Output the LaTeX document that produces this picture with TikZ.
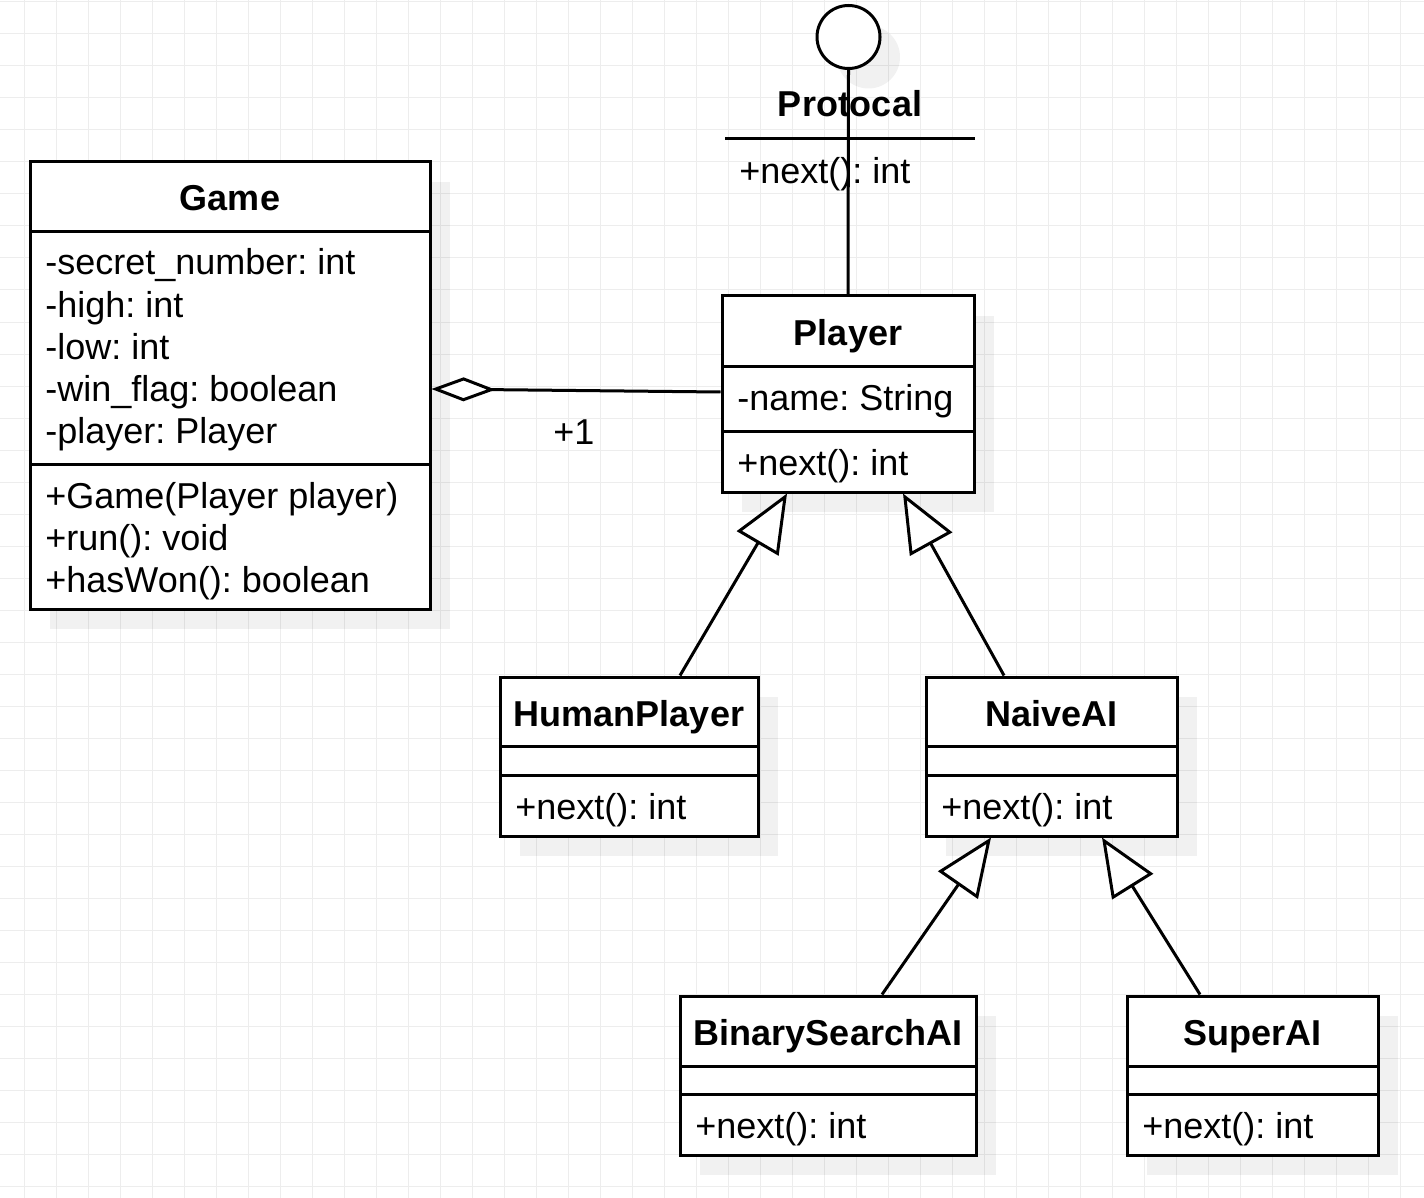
\documentclass[tikz,border=0pt]{standalone}
\usepackage{fontspec}
\setmainfont{Liberation Sans}
\usetikzlibrary{arrows.meta,fit,shadows,calc}
\definecolor{gridc}{HTML}{EDEDED}
\frenchspacing
\begin{document}
\frenchspacing
\begin{tikzpicture}[x=0.5pt,y=-0.5pt,
  every node/.style={font=\fontsize{18}{21.6}\selectfont\frenchspacing},
  gridline/.style={draw=gridc,line width=0.5pt},
  myshadow/.style={drop shadow={shadow xshift=10pt,shadow yshift=-10pt,fill=black,opacity=0.055}},
  box/.style={draw,line width=1.5pt,fill=white,inner sep=0pt,myshadow},
  divider/.style={line width=1.5pt},
  txt/.style={anchor=base west,inner sep=0pt,yshift=-1pt},
  ttl/.style={anchor=base,inner sep=0pt,yshift=-0.5pt,font=\fontsize{18}{21.6}\selectfont\bfseries},
  gen/.style={line width=1.5pt,-{Triangle[length=29pt,width=24pt,fill=white]}},
  aggr/.style={line width=1.5pt,-{Diamond[length=32pt,width=12pt,fill=white]}},
  conn/.style={line width=1.5pt}]
\useasboundingbox (0,0) rectangle (1424,1198);
\fill[white] (0,0) rectangle (1424,1198);
% grid
\foreach \x in {24,56,...,1400} \draw[gridline] (\x,0) -- (\x,1198);
\foreach \y in {2,34,...,1186} \draw[gridline] (0,\y) -- (1424,\y);

% Game
\node[box,fit={(30,162) (430,609)}] (game) {};
\draw[divider] (30,232) -- (430,232);
\draw[divider] (30,464) -- (430,464);
\node[ttl] (gameT) at (230,210) {Game};
\node[txt] (g1) at (45,273) {-secret\_number: int};
\node[txt] (g2) at (45,315) {-high: int};
\node[txt] (g3) at (45,357) {-low: int};
\node[txt] (g4) at (45,399) {-win\_flag: boolean};
\node[txt] (g5) at (45,441) {-player: Player};
\node[txt] (g6) at (45,506) {+Game(Player player)};
\node[txt] (g7) at (45,548) {+run(): void};
\node[txt] (g8) at (45,590) {+hasWon(): boolean};

% Player
\node[box,fit={(722,296) (974,492)}] (player) {};
\draw[divider] (722,366) -- (974,366);
\draw[divider] (722,431) -- (974,431);
\node[ttl] (playerT) at (848,344) {Player};
\node[txt] (p1) at (737,408) {-name: String};
\node[txt] (p2) at (737,473) {+next(): int};

% HumanPlayer
\node[box,fit={(500,677) (758,836)}] (hp) {};
\draw[divider] (500,746) -- (758,746);
\draw[divider] (500,775) -- (758,775);
\node[ttl] (hpT) at (629,725) {HumanPlayer};
\node[txt] (hp1) at (515,817) {+next(): int};

% NaiveAI
\node[box,fit={(926,677) (1177,836)}] (naive) {};
\draw[divider] (926,746) -- (1177,746);
\draw[divider] (926,775) -- (1177,775);
\node[ttl] (naiveT) at (1051.5,725) {NaiveAI};
\node[txt] (n1) at (941,817) {+next(): int};

% BinarySearchAI
\node[box,fit={(680,996) (976,1155)}] (bsai) {};
\draw[divider] (680,1066) -- (976,1066);
\draw[divider] (680,1094) -- (976,1094);
\node[ttl] (bsaiT) at (828,1044) {BinarySearchAI};
\node[txt] (b1) at (695,1136) {+next(): int};

% SuperAI
\node[box,fit={(1127,996) (1378,1155)}] (super) {};
\draw[divider] (1127,1066) -- (1378,1066);
\draw[divider] (1127,1094) -- (1378,1094);
\node[ttl] (superT) at (1252.5,1044) {SuperAI};
\node[txt] (s1) at (1142,1136) {+next(): int};

% Protocal interface
\node[circle,draw,line width=1.5pt,fill=white,minimum size=31.5pt,inner sep=0pt,myshadow] (proto) at (848.5,37) {};
\node[ttl] (protoT) at (850,116) {Protocal};
\draw[divider] (725,139) -- (975,139);
\node[txt] (pr1) at (739,182) {+next(): int};
\draw[conn] (proto.south) -- (player.north);

% aggregation
\draw[aggr] ($(player.west)+(0,-2)$) -- ($(game.east)+(0,3.5)$);
\node[txt] (mult) at (553,442) {+1};

% generalizations
\draw[gen] ($(hp.north)+(51,0)$) -- ($(player.south)+(-61,0)$);
\draw[gen] ($(naive.north)+(-47.5,0)$) -- ($(player.south)+(55,0)$);
\draw[gen] ($(bsai.north)+(54,0)$) -- ($(naive.south)+(-60.5,0)$);
\draw[gen] ($(super.north)+(-52.5,0)$) -- ($(naive.south)+(50.5,0)$);
\end{tikzpicture}
\end{document}
